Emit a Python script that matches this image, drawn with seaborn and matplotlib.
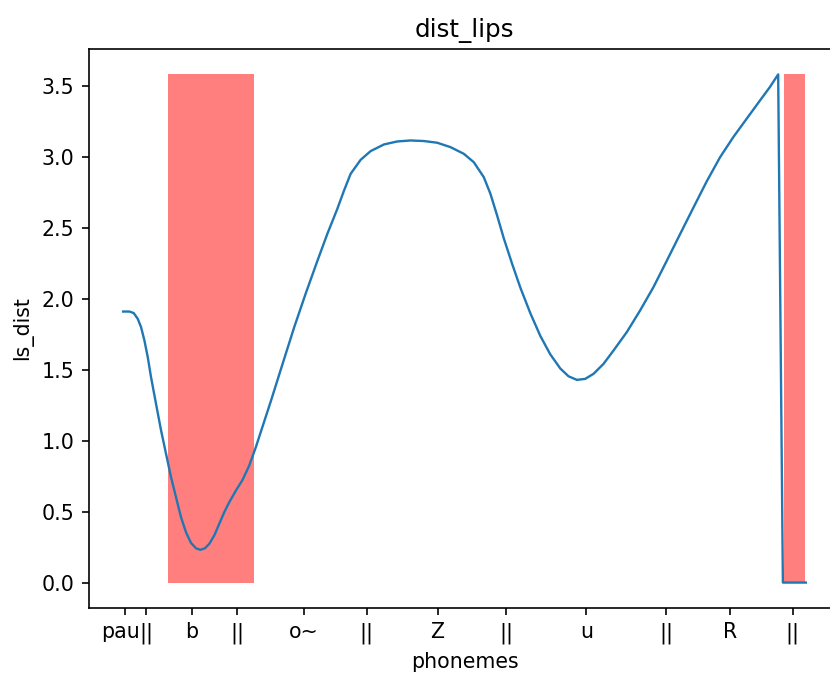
import seaborn as sns
import matplotlib
matplotlib.use('Agg')
import matplotlib.pyplot as plt
import matplotlib.transforms as mtransforms
from matplotlib.patches import Rectangle

# Data ------------------------------------------------------------------------
frames = [0.0, 0.93, 1.56, 2.14, 2.63, 3.12, 3.61, 4.09, 4.82, 5.56, 6.29,
          7.02, 7.75, 8.48, 9.21, 9.94, 10.67, 11.31, 11.99, 12.62, 13.35,
          14.08, 14.81, 15.55, 16.52, 17.50, 18.47, 19.44, 20.42, 21.64,
          23.34, 25.05, 26.75, 28.46, 29.92, 31.38, 32.36, 33.33, 34.80,
          36.26, 38.21, 40.16, 42.11, 44.05, 46.00, 47.95, 49.90, 51.36,
          52.83, 53.80, 54.78, 55.75, 56.97, 58.19, 59.65, 61.11, 62.57,
          64.04, 65.25, 66.47, 67.69, 68.91, 70.37, 71.83, 73.78, 75.73,
          77.68, 79.63, 81.58, 83.53, 85.48, 87.43, 89.38, 91.33, 93.27,
          94.74, 95.95, 96.64, 100.0]
ls_dist = [1.912, 1.912, 1.901, 1.861, 1.802, 1.708, 1.590, 1.449, 1.261,
           1.073, 0.908, 0.743, 0.602, 0.461, 0.355, 0.280, 0.242, 0.231,
           0.242, 0.273, 0.332, 0.414, 0.496, 0.567, 0.649, 0.725, 0.825,
           0.955, 1.100, 1.280, 1.540, 1.800, 2.040, 2.270, 2.461, 2.637,
           2.766, 2.884, 2.983, 3.044, 3.091, 3.112, 3.119, 3.115, 3.103,
           3.072, 3.025, 2.966, 2.860, 2.743, 2.590, 2.430, 2.250, 2.080,
           1.900, 1.740, 1.610, 1.510, 1.455, 1.430, 1.437, 1.473, 1.543,
           1.637, 1.767, 1.920, 2.084, 2.270, 2.458, 2.645, 2.830, 3.000,
           3.143, 3.272, 3.400, 3.496, 3.585, 0.0, 0.0]
tick_pos = [0.29, 3.36, 10.09, 16.67, 26.46, 35.67, 46.05, 56.14, 67.84,
            79.53, 88.89, 98.10]
tick_lbl = ['pau', '||', 'b', '||', 'o~', '||', 'Z', '||', 'u', '||', 'R',
            '||']
span_start = [6.58, 96.78]
span_end = [19.15, 99.85]
span_top = 3.585

# Plot ------------------------------------------------------------------------
DPI = 148
fig = plt.figure(figsize=(830 / DPI, 675 / DPI), dpi=DPI)
ax = fig.add_axes([0.1072, 0.0993, 0.9048, 0.8281])
for (s, e) in zip(span_start, span_end):
    ax.add_patch(Rectangle((s, 0), e - s, span_top, color='red', alpha=0.5,
                           linewidth=0, zorder=1))
sns.lineplot(x=frames, y=ls_dist, ax=ax, color='#1f77b4', linewidth=1.15,
             zorder=2)
ax.autoscale_view()
# Post Plot -------------------------------------------------------------------
ax.set_xticks(tick_pos)
ax.set_xticklabels(tick_lbl)
ax.set_title('dist_lips')
ax.set_xlabel('phonemes')
ax.set_ylabel('ls_dist')
ax.spines['right'].set_visible(False)
# nudge the first label so "pau" and "||" sit side by side
shift = mtransforms.ScaledTranslation(-2 / 72, 0, fig.dpi_scale_trans)
lbl0 = ax.get_xticklabels()[0]
lbl0.set_transform(lbl0.get_transform() + shift)
# Save ------------------------------------------------------------------------
fig.savefig('out.png', dpi=DPI)
